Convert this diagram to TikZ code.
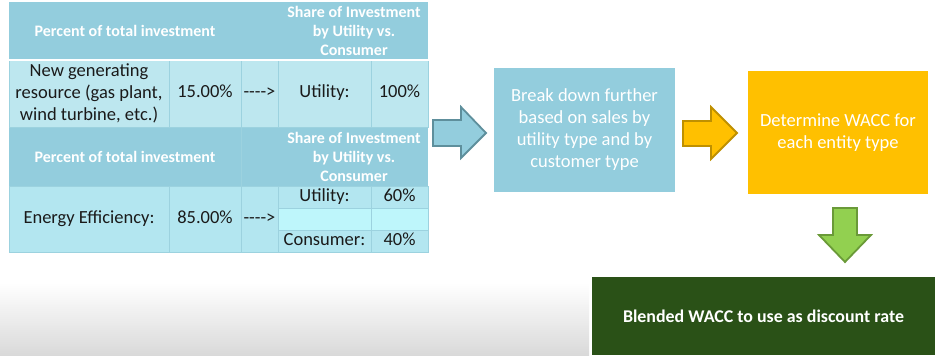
\documentclass[tikz,border=0pt]{standalone}
\usepackage{fontspec}
\setmainfont{Carlito}
\definecolor{hdr}{HTML}{93CDDD}
\definecolor{rowa}{HTML}{BDE7EF}
\definecolor{rowb}{HTML}{B3E6F0}
\definecolor{rowgap}{HTML}{BEF6FB}
\definecolor{cellline}{HTML}{9CD2DF}
\definecolor{tealedge}{HTML}{5E8F9C}
\definecolor{amber}{HTML}{FFC000}
\definecolor{amberedge}{HTML}{BF9000}
\definecolor{leaf}{HTML}{92D050}
\definecolor{leafedge}{HTML}{6A9A38}
\definecolor{forest}{HTML}{2A5117}
\definecolor{inktext}{HTML}{1A1A1A}
\begin{document}
\begin{tikzpicture}[x=1pt,y=-1pt,
  hdrtext/.style={text=white,font=\bfseries\fontsize{16}{19}\selectfont,align=center,inner sep=0},
  celltext/.style={text=inktext,font=\fontsize{18.5}{22}\selectfont,align=center,inner sep=0},
  oneline/.style={celltext,text height=12.5pt,text depth=4pt},
  cell/.style={draw=cellline,line width=0.8pt,inner sep=0,minimum width=#1},
  boxtext/.style={text=white,font=\fontsize{18.5}{22}\selectfont,align=center,inner sep=0},
  blockarrow/.style={line width=1.8pt,line join=miter}]
\useasboundingbox (0,0) rectangle (935,356);

% soft grey floor along the bottom
\shade[top color=white,bottom color=black!15] (0,283) rectangle (589,356);

% ---------- table: header rows ----------
\fill[hdr] (9,2) rectangle (428,60);
\fill[hdr] (9,127) rectangle (428,186);
\draw[cellline,line width=0.6pt] (241,127) -- (241,186);
\node[hdrtext] (h1a) at (125,31) {Percent of total investment};
\node[hdrtext] (h1b) at (354,31) {Share of Investment\\by Utility vs.\\Consumer};
\node[hdrtext] (h2a) at (125,156.5) {Percent of total investment};
\node[hdrtext] (h2b) at (354,156.5) {Share of Investment\\by Utility vs.\\Consumer};

% ---------- table: new generating resource ----------
\begin{scope}[every node/.style={fill=rowa,minimum height=67}]
  \node[cell=160] (r1c1) at (89,93.5) {};
  \node[cell=72]  (r1c2) at (205,93.5) {};
  \node[cell=37]  (r1c3) at (259.5,93.5) {};
  \node[cell=93]  (r1c4) at (324.5,93.5) {};
  \node[cell=57]  (r1c5) at (399.5,93.5) {};
\end{scope}
\draw[white,line width=2pt] (9,60) -- (429,60);
\node[celltext] (t1a) at (r1c1) {New generating\\resource (gas plant,\\wind turbine, etc.)};
\node[oneline] (t1b) at (r1c2) {15.00\%};
\node[oneline] (t1c) at (r1c3) {{-}{-}{-}{-}>};
\node[oneline] (t1d) at (r1c4) {Utility:};
\node[oneline] (t1e) at (r1c5) {100\%};

% ---------- table: energy efficiency ----------
\begin{scope}[every node/.style={fill=rowb}]
  \node[cell=160,minimum height=66] (r2c1) at (89,219) {};
  \node[cell=72,minimum height=66]  (r2c2) at (205,219) {};
  \node[cell=37,minimum height=66]  (r2c3) at (259.5,219) {};
  \node[cell=93,minimum height=22]  (r2u4) at (324.5,197) {};
  \node[cell=57,minimum height=22]  (r2u5) at (399.5,197) {};
  \node[cell=93,minimum height=22,fill=rowgap] (r2g4) at (324.5,219) {};
  \node[cell=57,minimum height=22,fill=rowgap] (r2g5) at (399.5,219) {};
  \node[cell=93,minimum height=22]  (r2k4) at (324.5,241) {};
  \node[cell=57,minimum height=22]  (r2k5) at (399.5,241) {};
\end{scope}
\node[oneline] (t2a) at (r2c1) {Energy Efficiency:};
\node[oneline] (t2b) at (r2c2) {85.00\%};
\node[oneline] (t2c) at (r2c3) {{-}{-}{-}{-}>};
\node[oneline] (t2d) at (r2u4) {Utility:};
\node[oneline] (t2e) at (r2u5) {60\%};
\node[oneline] (t2f) at (r2k4) {Consumer:};
\node[oneline] (t2g) at (r2k5) {40\%};

% ---------- process boxes ----------
\node[fill=hdr,minimum width=181,minimum height=124,inner sep=0] (split) at (584.5,130) {};
\node[boxtext] (splittxt) at (split) {Break down further\\based on sales by\\utility type and by\\customer type};

\node[fill=amber,minimum width=180,minimum height=123,inner sep=0] (wacc) at (838,132.5) {};
\node[boxtext] (wacctxt) at (wacc) {Determine WACC for\\each entity type};

\node[fill=forest,minimum width=343,minimum height=78,inner sep=0] (blend) at (763.5,316) {};
\node[text=white,font=\bfseries\fontsize{17.9}{21}\selectfont,inner sep=0] (blendtxt) at (blend) {Blended WACC to use as discount rate};

% ---------- block arrows between the stages ----------
\draw[blockarrow,fill=hdr,draw=tealedge]
  (433,120) -- (461,120) -- (461,107) -- (486,133) -- (461,158) -- (461,146) -- (433,146) -- cycle;
\draw[blockarrow,fill=amber,draw=amberedge]
  (683,121) -- (711,121) -- (711,107) -- (737,133) -- (711,159) -- (711,146) -- (683,146) -- cycle;
\draw[blockarrow,fill=leaf,draw=leafedge]
  (833,208) -- (857,208) -- (857,235) -- (871,235) -- (845,262) -- (819,235) -- (833,235) -- cycle;
\end{tikzpicture}
\end{document}
